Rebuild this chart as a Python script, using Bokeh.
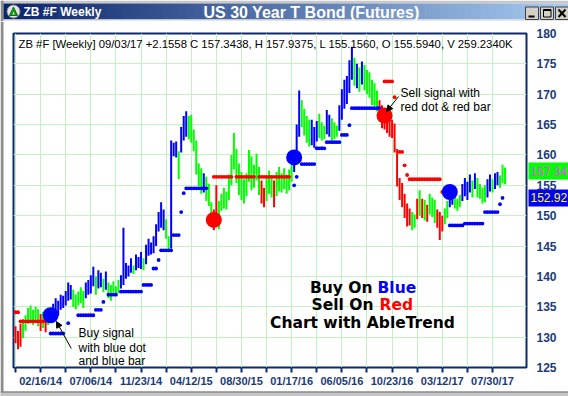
import math
from bokeh.plotting import figure
from bokeh.models import Range1d, FixedTicker, Label, Arrow, NormalHead, ColumnDataSource
from bokeh.layouts import column
from bokeh.embed import file_html
from bokeh.resources import INLINE
from bokeh.core.properties import value

nan = float("nan")

# ---------------- data (weekly bars, week 0 = 12/08/13, week 195 = 09/03/17) ----------------
week_high = [
    131.8, 131.0, 132.2, 133.0, 133.6, 134.8, 135.2, 134.5, 135.0, 134.6,
    133.8, 134.2, 133.5, 134.0, 134.8, 135.5, 136.4, 136.0, 137.0, 136.8,
    137.6, 139.0, 138.6, 137.8, 137.0, 137.5, 138.2, 137.6, 139.0, 139.4,
    140.2, 141.6, 140.0, 141.0, 140.6, 139.6, 140.8, 139.0, 138.6, 139.2,
    138.4, 139.4, 140.2, 148.0, 142.2, 141.8, 143.0, 141.8, 143.6, 143.2,
    144.0, 143.0, 145.2, 146.2, 145.6, 146.6, 148.6, 150.6, 152.2, 151.0,
    149.4, 146.6, 162.4, 162.0, 162.2, 160.6, 164.6, 166.4, 167.2, 166.4,
    166.6, 164.2, 162.4, 158.6, 157.8, 157.0, 156.4, 155.2, 152.2, 151.0,
    155.0, 152.4, 153.6, 154.6, 154.0, 156.8, 160.0, 163.6, 161.0, 158.6,
    157.2, 156.0, 157.0, 160.8, 159.8, 158.4, 160.2, 158.0, 155.8, 154.6,
    156.2, 157.4, 156.6, 155.8, 157.2, 158.0, 157.0, 157.8, 156.8, 157.6,
    159.0, 160.6, 165.0, 170.6, 169.0, 167.6, 166.4, 165.8, 165.8, 164.6,
    165.6, 166.8, 165.4, 164.8, 167.4, 166.6, 166.0, 165.4, 164.8, 168.2,
    170.8, 172.4, 173.0, 175.6, 177.8, 176.0, 175.0, 174.4, 175.4, 174.8,
    174.0, 173.6, 172.4, 171.8, 170.6, 169.0, 168.2, 167.4, 167.0, 166.2,
    165.8, 165.2, 161.0, 156.2, 155.4, 153.6, 152.0, 151.2, 150.6, 150.2,
    152.8, 154.2, 152.8, 152.6, 151.8, 153.6, 153.0, 152.6, 151.0, 150.6,
    150.0, 151.2, 152.4, 154.8, 154.0, 153.6, 152.8, 153.4, 155.2, 156.2,
    155.6, 156.8, 155.8, 157.0, 156.2, 155.2, 154.6, 155.0, 156.0, 156.8,
    156.0, 157.0, 157.2, 156.6, 158.4, 157.9375,
]
week_low = [
    129.0, 128.0, 128.4, 129.8, 131.0, 132.2, 132.5, 132.0, 132.8, 131.8,
    131.0, 131.5, 130.8, 132.0, 132.5, 133.0, 133.8, 133.6, 134.5, 134.8,
    135.2, 136.0, 136.2, 135.0, 134.6, 135.2, 135.6, 134.8, 136.4, 137.0,
    137.2, 138.4, 137.0, 138.0, 138.2, 137.4, 137.8, 136.4, 136.0, 136.8,
    137.0, 137.2, 138.0, 138.6, 139.6, 140.0, 140.6, 140.4, 141.0, 141.4,
    141.2, 141.0, 142.0, 143.4, 143.6, 143.8, 145.0, 147.4, 148.0, 147.6,
    146.2, 144.0, 144.6, 159.8, 159.6, 156.0, 160.4, 162.4, 163.0, 162.6,
    162.0, 160.6, 156.8, 154.8, 153.6, 153.8, 152.4, 151.6, 148.8, 147.6,
    150.2, 147.8, 150.8, 151.2, 151.0, 152.6, 155.0, 157.6, 155.4, 153.4,
    152.6, 152.0, 153.2, 155.6, 154.2, 154.6, 155.8, 153.4, 152.0, 151.4,
    152.4, 153.6, 153.0, 151.4, 153.2, 154.0, 153.8, 154.4, 153.6, 154.2,
    155.6, 157.2, 159.8, 163.0, 164.6, 163.2, 162.0, 161.4, 161.6, 161.2,
    162.2, 162.8, 162.4, 162.6, 163.4, 163.0, 162.4, 162.6, 163.0, 164.0,
    165.8, 167.6, 168.4, 170.2, 172.4, 171.4, 171.0, 170.4, 171.6, 170.6,
    170.0, 169.4, 168.2, 168.0, 167.2, 165.6, 164.4, 164.2, 163.6, 163.0,
    162.8, 160.4, 154.8, 152.6, 151.4, 149.6, 148.2, 148.4, 147.6, 148.0,
    149.4, 150.0, 149.6, 149.2, 149.0, 150.2, 149.8, 148.8, 148.0, 146.0,
    147.4, 148.6, 149.6, 151.4, 151.8, 151.2, 150.8, 151.4, 152.4, 153.2,
    152.6, 153.8, 153.0, 154.4, 153.0, 152.8, 152.0, 152.2, 153.0, 154.0,
    153.8, 154.4, 155.0, 154.6, 155.4, 155.156,
]
# b = blue (up), g = green (neutral), r = red (down)
week_color = (
    "rrrggggggg" "rgrgbbbbbb" "bbbgggggbb" "bbgbbgbggg" "ggbbbbbgbb"
    "bgbbbbbbbb" "ggbbbgbbbg" "gggggbgggr" "rggggggggg" "ggggggggrr"
    "gggrgggggg" "gbbbggggbb" "bgggbbgggb" "bbbbbgbgbg" "gggggrrrrr"
    "rrrrrrrrgg" "rgrgrgggrr" "rggbbgggbb" "bbgbggggbb" "gbbggg"
)
# AbleTrend stop dots (nan = no dot)
week_stop = [
    134.1, 134.1, 132.6, 132.6, 132.6, 132.6, 132.6, 132.6, 132.6, 132.6,
    132.6, 132.6, 132.6, nan, 130.6, 130.6, 130.6, 130.6, 130.6, 130.6,
    nan, 132.3, nan, nan, nan, 133.6, 133.6, 133.6, 133.6, 133.6,
    133.6, 133.6, 134.5, 134.5, 134.5, 135.8, nan, 137.0, 137.0, 137.0,
    137.0, nan, 137.5, 137.5, 137.5, 137.5, 137.5, 137.5, 137.5, 137.5,
    137.5, 138.6, 138.6, 138.6, 138.6, 141.3, 141.3, 142.7, 144.3, 144.3,
    144.3, 144.3, 144.3, 146.8, 146.8, 146.8, 150.6, 153.7, 154.5, 154.5,
    154.5, 154.5, 154.5, 154.5, 154.5, 154.5, 154.5, nan, nan, 156.4,
    156.4, 156.4, 156.4, 156.4, 156.4, 156.4, 156.4, nan, 156.4, 156.4,
    156.4, 156.4, 156.4, 156.4, 156.4, 156.4, nan, 156.4, 156.4, 156.4,
    156.4, 156.4, 156.4, 156.4, 156.4, 156.4, 156.4, 156.4, 156.4, 156.4,
    nan, 155.0, 156.4, nan, 158.5, 158.5, 158.5, 158.5, 158.5, 158.5,
    161.1, 161.1, 161.1, 161.1, 162.1, 162.1, 162.1, 162.1, 162.1, 162.1,
    163.3, 163.3, 163.3, 164.9, 167.7, 167.7, 167.7, 167.7, 167.7, 167.7,
    167.7, 167.7, 167.7, 167.7, 167.7, 167.7, nan, 172.1, 172.1, 172.1,
    172.1, 169.5, nan, 160.5, 160.5, 158.3, 156.7, 156.0, 156.0, 156.0,
    156.0, 156.0, 156.0, 156.0, 156.0, 156.0, 156.0, 156.0, 156.0, 156.0,
    153.9, nan, nan, 148.4, 148.4, 148.4, 148.4, 148.4, 148.4, 148.7,
    148.7, 148.7, 148.7, 148.7, 148.7, 148.7, 148.7, 150.6, 150.6, 150.6,
    150.6, 150.6, 150.6, 151.9, 152.92, nan,
]
# buy / sell signals (big dots)
signal_week = [14, 79, 111, 147, 173]
signal_price = [133.6, 149.3, 159.6, 166.5, 153.9]
signal_kind = ["buy", "sell", "buy", "sell", "buy"]

y_ticks = [125, 130, 135, 140, 145, 150, 155, 160, 165, 170, 175, 180]
x_tick_weeks = [0, 10, 20, 30, 40, 50, 60, 70, 80, 90, 100, 110, 120, 130, 140, 150, 160, 170, 180, 190]
x_tick_labels = ["", "02/16/14", "", "07/06/14", "", "11/23/14", "", "04/12/15", "", "08/30/15",
                 "", "01/17/16", "", "06/05/16", "", "10/23/16", "", "03/12/17", "", "07/30/17"]

last_close = 157.3438
last_stop = 152.92
tag_values = [last_close, last_stop]
header_text = "ZB #F [Weekly] 09/03/17  +2.1558 C 157.3438, H 157.9375, L 155.1560, O 155.5940, V 259.2340K"

# ---------------- styling ----------------
BLUE, GREEN, RED = "#0000ff", "#00ff00", "#ff0000"
CMAP = {"b": BLUE, "g": GREEN, "r": RED}
NAVY = "#0c2a6e"
LABEL_NAVY = "#1b3a7a"
FONT = "Liberation Sans"
W = 568
TITLE_H = 21
MAIN_H = 375
B_TOP, B_BOTTOM, B_LEFT, B_RIGHT = 12, 29, 13, 42
Y0, Y1 = 125, 180
PX = (MAIN_H - B_TOP - B_BOTTOM) / (Y1 - Y0)   # pixels per price unit


def no_align(fig):
    if hasattr(fig, "frame_align"):
        fig.frame_align = False


# ---------------- title bar (window chrome) ----------------
t = figure(width=W, height=TITLE_H, x_range=Range1d(0, W), y_range=Range1d(TITLE_H, 0),
           toolbar_location=None, output_backend="svg", x_axis_location=None, y_axis_location=None,
           min_border=0)
no_align(t)
t.grid.visible = False
t.outline_line_color = None
t.background_fill_color = "#ffffff"
t.border_fill_color = "#ffffff"
t.quad(left=[0], right=[W], top=[0], bottom=[3], fill_color="#c8c8c8", line_color=None)
t.quad(left=[0], right=[3], top=[0], bottom=[TITLE_H], fill_color="#8c8c8c", line_color=None)
c0 = (10, 36, 106)
c1 = (166, 202, 240)
n = 71
x_start = 3
lefts, rights, cols = [], [], []
for i in range(n):
    f = i / (n - 1)
    r, g, b = (round(c0[k] + (c1[k] - c0[k]) * f) for k in range(3))
    lefts.append(x_start + i * (W - x_start) / n)
    rights.append(x_start + (i + 1) * (W - x_start) / n + 0.5)
    cols.append("#%02x%02x%02x" % (r, g, b))
t.quad(left=lefts, right=rights, top=[3] * n, bottom=[19] * n, fill_color=cols, line_color=None)
t.quad(left=[3], right=[W], top=[19], bottom=[20.5], fill_color="#e4e4e4", line_color=None)
# icon
t.scatter(x=[13], y=[11], size=13, marker="circle", fill_color="#e6e6e6", line_color="#8a8a8a")
t.patch(x=[9, 17, 13], y=[15, 15, 6.5], fill_color="#12a012", line_color="#0a700a")
t.patch(x=[12, 14, 13], y=[14, 14, 11], fill_color="#ffffff", line_color=None)
t.text(x=[23], y=[11.5], text=["ZB #F Weekly"], text_color="#ffffff", text_font=value(FONT),
       text_font_style="bold", text_font_size="12px", text_baseline="middle", text_align="left")
t.text(x=[311], y=[11.5], text=["US 30 Year T Bond (Futures)"], text_color="#ffffff", text_font=value(FONT),
       text_font_style="bold", text_font_size="16px", text_baseline="middle", text_align="center")
# window buttons
t.quad(left=[525, 540, 555], right=[538, 553, 568], top=[6.5, 6.5, 6.5], bottom=[19, 19, 19],
       fill_color="#d4d0c8", line_color="#404040", line_width=1)
t.quad(left=[528], right=[534], top=[15], bottom=[17], fill_color="#000000", line_color=None)
t.quad(left=[543], right=[550.5], top=[9], bottom=[16.5], fill_color=None, line_color="#000000", line_width=1)
t.quad(left=[543], right=[550.5], top=[9], bottom=[10.5], fill_color="#000000", line_color=None)
t.segment(x0=[558, 558], y0=[9, 16.5], x1=[565, 565], y1=[16.5, 9], line_color="#000000", line_width=2)

# ---------------- main chart ----------------
p = figure(width=W, height=MAIN_H, x_range=Range1d(-0.8, 203.55), y_range=Range1d(Y0, Y1),
           toolbar_location=None, output_backend="svg", x_axis_location="below", y_axis_location="right",
           min_border_left=B_LEFT, min_border_right=B_RIGHT, min_border_top=B_TOP, min_border_bottom=B_BOTTOM)
no_align(p)
p.background_fill_color = "#ffffff"
p.border_fill_color = "#ffffff"
p.outline_line_color = NAVY
p.outline_line_width = 2

xt = FixedTicker(ticks=x_tick_weeks)
p.xaxis.ticker = xt
p.xaxis.major_label_overrides = {w: s for w, s in zip(x_tick_weeks, x_tick_labels)}
p.xaxis.axis_line_color = None
p.xaxis.major_tick_out = 5
p.xaxis.major_tick_in = 0
p.xaxis.minor_tick_line_color = None
p.xaxis.major_tick_line_color = NAVY
p.xaxis.major_tick_line_width = 2
p.xaxis.major_label_standoff = 2
p.xaxis.major_label_text_font = FONT
p.xaxis.major_label_text_font_style = "bold"
p.xaxis.major_label_text_font_size = "11px"
p.xaxis.major_label_text_color = LABEL_NAVY

p.yaxis.ticker = FixedTicker(ticks=y_ticks)
p.yaxis.axis_line_color = None
p.yaxis.major_tick_out = 0
p.yaxis.major_tick_in = 0
p.yaxis.minor_tick_line_color = None
p.yaxis.major_label_standoff = 10
p.yaxis.major_label_text_font = FONT
p.yaxis.major_label_text_font_style = "bold"
p.yaxis.major_label_text_font_size = "12px"
p.yaxis.major_label_text_color = LABEL_NAVY

p.xgrid.ticker = xt
p.xgrid.grid_line_color = "#c2f2c2"
p.ygrid.grid_line_color = "#c2f2c2"

weeks = list(range(len(week_high)))
bars = ColumnDataSource(dict(w=weeks, hi=week_high, lo=week_low,
                             c=[CMAP[ch] for ch in week_color]))
p.segment(x0="w", y0="lo", x1="w", y1="hi", line_color="c", line_width=2, source=bars)

# stop dots: colour follows the last signal
stop_x, stop_y, stop_c = [], [], []
for w, s in enumerate(week_stop):
    kind = "sell"
    for sw, sk in zip(signal_week, signal_kind):
        if sw <= w:
            kind = sk
    if not math.isnan(s):
        stop_x.append(w)
        stop_y.append(s)
        stop_c.append(BLUE if kind == "buy" else RED)
p.scatter(x=stop_x, y=stop_y, size=3.8, marker="circle", fill_color=stop_c, line_color=None)

p.scatter(x=signal_week, y=signal_price, size=16, marker="circle",
          fill_color=[BLUE if k == "buy" else RED for k in signal_kind], line_color=None)

# header line
p.add_layout(Label(x=1.2, y=178.19, text=header_text, text_font=FONT, text_font_size="11.3px",
                   text_color="#000000", text_baseline="middle"))

# callouts
for txt, yy in zip(["Buy signal", "with blue dot", "and blue bar"], [130.60, 128.29, 125.99]):
    p.add_layout(Label(x=25.1, y=yy, text=txt, text_font=FONT, text_font_size="12px",
                       text_color="#000000", text_baseline="alphabetic"))
for txt, yy in zip(["Sell signal with", "red dot & red bar"], [170.28, 167.90]):
    p.add_layout(Label(x=153.4, y=yy, text=txt, text_font=FONT, text_font_size="12px",
                       text_color="#000000", text_baseline="alphabetic"))
p.add_layout(Arrow(end=NormalHead(size=6, fill_color="#000000", line_color="#000000"),
                   x_start=22.2, y_start=128.13, x_end=16.3, y_end=132.57, line_width=1))
p.add_layout(Arrow(end=NormalHead(size=6, fill_color="#000000", line_color="#000000"),
                   x_start=152.6, y_start=169.63, x_end=147.8, y_end=167.16, line_width=1))

BIG = dict(text_font="DejaVu Sans", text_font_style="bold", text_font_size="15.5px",
           text_baseline="alphabetic")
p.add_layout(Label(x=142.2, y=138.17, text="Buy On", text_align="right", text_color="#000000", **BIG))
p.add_layout(Label(x=144.2, y=138.17, text="Blue", text_align="left", text_color=BLUE, **BIG))
p.add_layout(Label(x=142.6, y=135.21, text="Sell On", text_align="right", text_color="#000000", **BIG))
p.add_layout(Label(x=145.0, y=135.21, text="Red", text_align="left", text_color=RED, **BIG))
p.add_layout(Label(x=138.2, y=132.33, text="Chart with AbleTrend", text_align="center",
                   text_color="#000000", **BIG))

# ---------------- transparent overlay (pulled up over the chart): price tags + window edges ----------------
q_bottom = Y0 - B_BOTTOM / PX
q_top = Y1 + B_TOP / PX
q = figure(width=W, height=MAIN_H, x_range=Range1d(0, W), y_range=Range1d(q_bottom, q_top),
           toolbar_location=None, output_backend="svg", x_axis_location=None, y_axis_location=None,
           min_border=0, margin=(-MAIN_H, 0, 0, 0))
no_align(q)
q.grid.visible = False
q.outline_line_color = None
q.background_fill_alpha = 0
q.border_fill_alpha = 0


def row_price(px_from_top):
    return q_top - px_from_top / PX


# window edges (left border and bottom frame)
q.quad(left=[0], right=[3], top=[q_top], bottom=[q_bottom], fill_color="#8c8c8c", line_color=None)
q.quad(left=[0], right=[W], top=[row_price(MAIN_H - 5)], bottom=[q_bottom], fill_color="#c4c4c4",
       line_color=None)
q.quad(left=[0], right=[W], top=[row_price(MAIN_H - 5)], bottom=[row_price(MAIN_H - 4)],
       fill_color="#6e6e6e", line_color=None)

half = 8.5 / PX
tag_left = W - B_RIGHT + 2
q.quad(left=[tag_left] * 2, right=[W] * 2, top=[v + half for v in tag_values],
       bottom=[v - half for v in tag_values], fill_color=[GREEN, BLUE], line_color=None)
q.text(x=[tag_left + 2] * 2, y=tag_values, text=["%.2f" % v for v in tag_values],
       text_color=["#ff40ff", "#ffff00"], text_font=value(FONT), text_font_size="12px",
       text_baseline="middle", text_align="left")

layout = column(t, p, q, spacing=0)
open("out.html", "w").write(file_html(layout, INLINE))
